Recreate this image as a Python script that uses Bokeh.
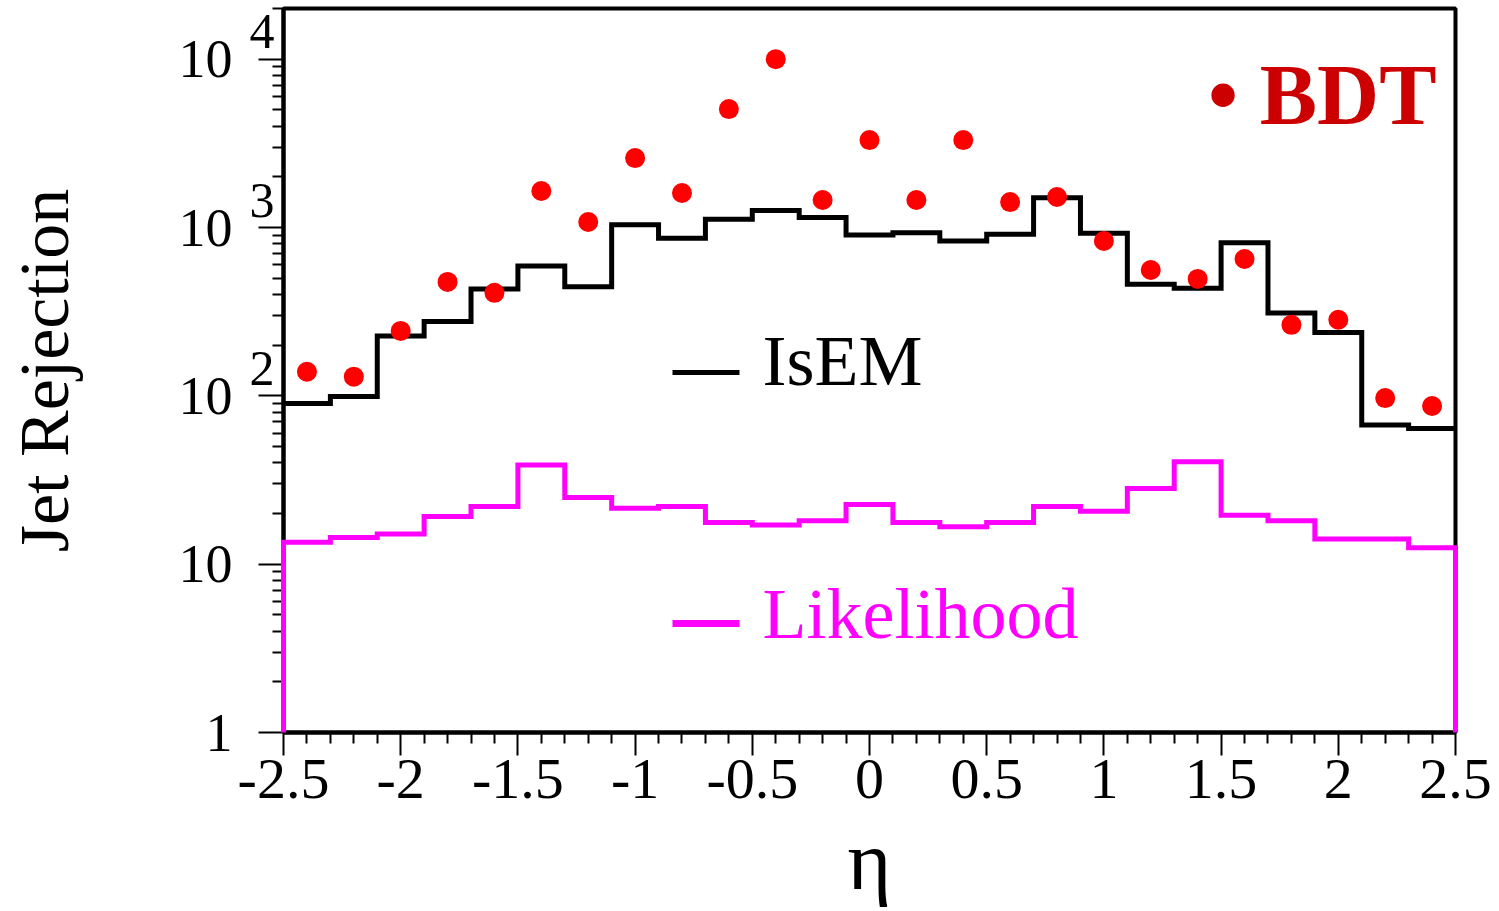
import numpy as np
from bokeh.plotting import figure
from bokeh.models import Label, FixedTicker, LogAxis
from bokeh.embed import file_html
from bokeh.resources import INLINE

# ---------------- data ----------------
eta_edges = [-2.5, -2.3, -2.1, -1.9, -1.7, -1.5, -1.3, -1.1, -0.9, -0.7, -0.5,
             -0.3, -0.1, 0.1, 0.3, 0.5, 0.7, 0.9, 1.1, 1.3, 1.5, 1.7, 1.9, 2.1,
             2.3, 2.5]
isem_rej = [90, 99, 227, 276, 431, 590, 445, 1040, 862, 1118, 1262, 1148, 903,
            931, 831, 912, 1503, 925, 460, 436, 813, 310, 238, 67, 64]
likelihood_rej = [13.5, 14.4, 15.1, 19.2, 22.0, 38.8, 24.9, 21.5, 22.0, 17.7,
                  17.1, 18.1, 22.6, 17.7, 16.7, 17.7, 22.0, 20.6, 28.2, 40.6,
                  19.5, 18.1, 14.1, 14.1, 12.5]
bdt_rej = [139, 130, 243, 475, 409, 1647, 1078, 2585, 1602, 5050, 10000, 1456,
           3305, 1456, 3305, 1416, 1517, 831, 559, 495, 650, 264, 283, 97, 87]

x_ticks = [-2.5, -2, -1.5, -1, -0.5, 0, 0.5, 1, 1.5, 2, 2.5]
x_tick_labels = ["-2.5", "-2", "-1.5", "-1", "-0.5", "0", "0.5", "1", "1.5", "2", "2.5"]
y_ticks = [1, 10, 100, 1000, 10000]
y_tick_labels = ["1", "10", "10", "10", "10"]
y_exponents = ["", "", "2", "3", "4"]

series_names = ["IsEM", "Likelihood", "BDT"]
x_title = "η"
y_title = "Jet Rejection"

FONT = "Liberation Serif"
MAGENTA = "#FF00FF"
RED = "#FF0000"
DARKRED = "#CC0000"

# ---------------- figure ----------------
X0, X1 = -2.5, 2.5
Y0, Y1 = 1, 2e4
p = figure(width=1499, height=911, x_range=(X0, X1), y_range=(Y0, Y1),
           y_axis_type="log", output_backend="svg", toolbar_location=None,
           min_border_left=283, min_border_right=44, min_border_top=8,
           min_border_bottom=179)
p.background_fill_color = "white"
p.border_fill_color = "white"
p.grid.visible = False
p.outline_line_color = "black"
p.outline_line_width = 4
p.outline_line_alpha = 1.0

# ---------------- histograms ----------------
edges = np.array(eta_edges, dtype=float)
xs_step = np.repeat(edges, 2)[1:-1]
ys_isem = np.repeat(np.array(isem_rej, dtype=float), 2)
ys_like = np.repeat(np.array(likelihood_rej, dtype=float), 2)
xs_like = np.concatenate([[edges[0]], xs_step, [edges[-1]]])
ys_like = np.concatenate([[Y0], ys_like, [Y0]])

p.line(xs_step, ys_isem, line_color="black", line_width=5, line_join="miter")
p.line(xs_like, ys_like, line_color=MAGENTA, line_width=5, line_join="miter",
       level="overlay")

centers = (edges[:-1] + edges[1:]) / 2
p.scatter(centers, bdt_rej, size=20, fill_color=RED, line_color=None)

# ---------------- axes ----------------
x_minor = [round(-2.5 + 0.1 * i, 1) for i in range(51)]
x_minor = [v for v in x_minor if all(abs(v - t) > 1e-6 for t in x_ticks)]
y_minor = [m * 10 ** k for k in range(5) for m in range(2, 10) if m * 10 ** k <= Y1]

xa = p.xaxis[0]
xa.ticker = FixedTicker(ticks=x_ticks, minor_ticks=x_minor)
xa.major_label_overrides = dict(zip(x_ticks, x_tick_labels))
xa.major_tick_out = 23
xa.minor_tick_out = 11
xa.major_label_text_font_size = "58px"
xa.major_label_standoff = 4
xa.axis_label = x_title
xa.axis_label_text_font = FONT
xa.axis_label_text_font_size = "84px"
xa.axis_label_text_font_style = "normal"
xa.axis_label_text_color = "black"
xa.axis_label_standoff = 13

# inner y axis: ticks + exponents
ya = p.yaxis[0]
ya.ticker = FixedTicker(ticks=y_ticks, minor_ticks=y_minor)
ya.major_label_overrides = {t: (e + "\n" if e else "") for t, e in zip(y_ticks, y_exponents)}
ya.major_tick_out = 25
ya.minor_tick_out = 11
ya.major_label_text_font_size = "50px"
ya.major_label_text_line_height = 1.0
ya.major_label_standoff = -16

for ax in (xa, ya):
    ax.axis_line_color = "black"
    ax.axis_line_width = 4
    ax.major_tick_line_color = "black"
    ax.minor_tick_line_color = "black"
    ax.major_tick_line_width = 2
    ax.minor_tick_line_width = 2
    ax.major_tick_in = 0
    ax.minor_tick_in = 0
    ax.major_label_text_font = FONT
    ax.major_label_text_color = "black"

# outer y axis: mantissas "10" and the title
yo = LogAxis(ticker=FixedTicker(ticks=y_ticks, minor_ticks=[]),
             major_label_overrides=dict(zip(y_ticks, y_tick_labels)))
yo.axis_line_color = None
yo.major_tick_line_color = None
yo.minor_tick_line_color = None
yo.major_tick_out = 0
yo.minor_tick_out = 0
yo.major_tick_in = 0
yo.minor_tick_in = 0
yo.major_label_text_font = FONT
yo.major_label_text_font_size = "54px"
yo.major_label_text_color = "black"
yo.major_label_standoff = 14
yo.axis_label = y_title
yo.axis_label_text_font = FONT
yo.axis_label_text_font_size = "70px"
yo.axis_label_text_font_style = "normal"
yo.axis_label_text_color = "black"
yo.axis_label_standoff = 93
p.add_layout(yo, "left")

# ---------------- legend ----------------
FR_L, FR_R, FR_T, FR_B = 283, 1455, 8, 732  # frame in pixels


def px_x(px):
    return X0 + (px - FR_L) * (X1 - X0) / (FR_R - FR_L)


def px_y(py):
    return 10 ** ((FR_B - py) * np.log10(Y1 / Y0) / (FR_B - FR_T)) * Y0


p.segment(x0=[px_x(672)], y0=[px_y(372)], x1=[px_x(739)], y1=[px_y(372)],
          line_color="black", line_width=5)
p.segment(x0=[px_x(672)], y0=[px_y(623)], x1=[px_x(739)], y1=[px_y(623)],
          line_color=MAGENTA, line_width=7)

p.add_layout(Label(x=X0, y=Y0, text=series_names[0], text_font=FONT,
                   text_font_size="72px", text_color="black", text_align="left",
                   text_baseline="alphabetic", x_offset=479, y_offset=372))
p.add_layout(Label(x=X0, y=Y0, text=series_names[1], text_font=FONT,
                   text_font_size="72px", text_color=MAGENTA, text_align="left",
                   text_baseline="alphabetic", x_offset=479, y_offset=119))
p.add_layout(Label(x=X1, y=Y0, text="• " + series_names[2], text_font=FONT,
                   text_font_size="86px", text_font_style="bold",
                   text_color=DARKRED, text_align="right",
                   text_baseline="alphabetic", x_offset=-19, y_offset=638))

open("out.html", "w").write(file_html(p, INLINE))
